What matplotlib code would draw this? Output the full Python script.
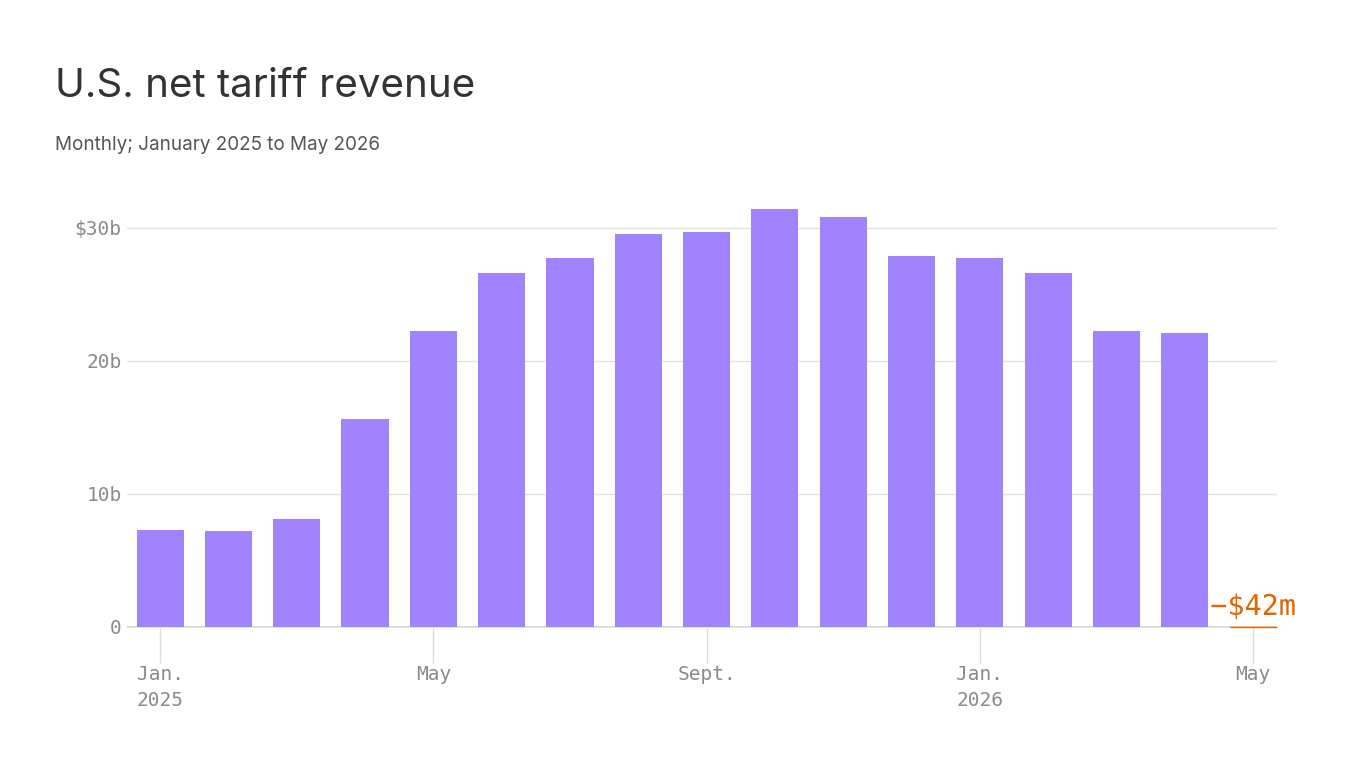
import numpy as np
import matplotlib.pyplot as plt
import matplotlib.patheffects as pe

plt.rcParams['font.family'] = ['Inter', 'DejaVu Sans']

# monthly net tariff revenue, billions of dollars
months = ['Jan. 2025', 'Feb.', 'Mar.', 'Apr.', 'May', 'June', 'July', 'Aug.', 'Sept.',
          'Oct.', 'Nov.', 'Dec.', 'Jan. 2026', 'Feb.', 'Mar.', 'Apr.', 'May']
revenue = [7.3, 7.2, 8.1, 15.6, 22.2, 26.6, 27.7, 29.5, 29.7,
           31.4, 30.8, 27.9, 27.7, 26.6, 22.2, 22.1, -0.042]
tick_idx = [0, 4, 8, 12, 16]
tick_labels = ['Jan.\n2025', 'May', 'Sept.', 'Jan.\n2026', 'May']
y_ticks = [0, 10, 20, 30]
y_labels = ['0', '10b', '20b', '$30b']
last_label = '\u2212$42m'

purple = '#a283ff'
orange = '#e06500'
mono = 'DejaVu Sans Mono'

W, H = 1366, 768
fig = plt.figure(figsize=(W / 100, H / 100), dpi=100)
# axes box in pixels: left 127, right 1277, top 201, bottom 628
ax = fig.add_axes([127 / W, 1 - 628 / H, (1277 - 127) / W, (628 - 201) / H])

x = np.arange(len(revenue))
colors = [purple if v >= 0 else orange for v in revenue]
bars = ax.bar(x, revenue, width=0.69, color=colors, zorder=2)
bars[-1].set_edgecolor(orange)
bars[-1].set_linewidth(1.0)
bars[-1].set_clip_on(False)
bars[-1].set_zorder(3)

ax.set_xlim(-0.485, 16.35)
ax.set_ylim(-0.08, 32)

ax.set_yticks(y_ticks)
ax.set_yticklabels(y_labels, fontfamily=mono, fontsize=14, color='#8a8a8a')
ax.set_xticks(tick_idx)
ax.set_xticklabels(tick_labels, fontfamily=mono, fontsize=14, color='#8a8a8a',
                   linespacing=1.5)
ax.tick_params(axis='y', length=0, pad=4)
ax.tick_params(axis='x', length=25, width=1, color='#dcdcdc', pad=1.5)

ax.grid(axis='y', color='#e2e2e2', linewidth=1, zorder=0)
for s in ['top', 'right', 'left', 'bottom']:
    ax.spines[s].set_visible(False)
ax.axhline(0, color='#cfcfcf', linewidth=1.2, zorder=1)

ax.text(x[-1], 0.45, last_label, ha='center', va='bottom', fontfamily=mono,
        fontsize=20.5, color=orange, zorder=4,
        path_effects=[pe.withStroke(linewidth=5, foreground='white')])

fig.text(55 / W, 1 - 97 / H, 'U.S. net tariff revenue', fontsize=29, color='#333333',
         ha='left', va='baseline')
fig.text(55 / W, 1 - 150 / H, 'Monthly; January 2025 to May 2026', fontsize=13.6,
         color='#555555', ha='left', va='baseline')

fig.savefig('out.png', dpi=100, facecolor='white')
